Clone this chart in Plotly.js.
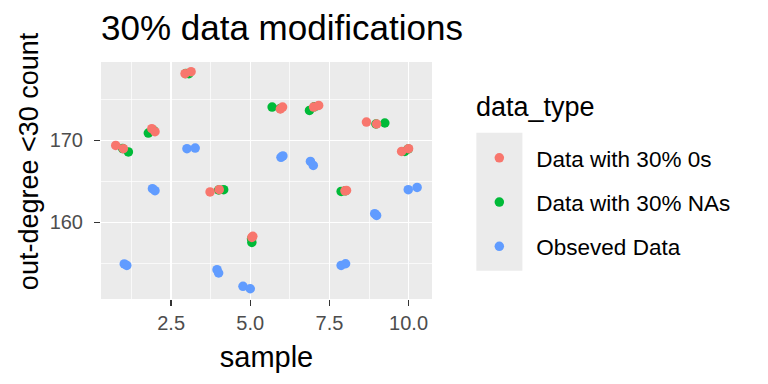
<!DOCTYPE html>
<html>
<head>
<meta charset="utf-8">
<script src="https://cdn.plot.ly/plotly-3.0.1.min.js"></script>
<style>html,body{margin:0;padding:0;background:#fff;}#chart{width:768px;height:384px;}</style>
</head>
<body>
<div id="chart"></div>
<script>
// Data (x values include the plotted jitter)
const seriesNames = ["Data with 30% 0s", "Data with 30% NAs", "Obseved Data"];
const seriesColors = ["#F8766D", "#00BA38", "#619CFF"];

const xZeros = [0.75, 0.99, 1.89, 1.99, 2.94, 3.13, 3.73, 4.02, 5.05, 5.08, 5.95, 6.02, 7.00, 7.16, 8.04, 7.99, 8.67, 8.99, 9.78, 10.00];
const yZeros = [169.39, 168.99, 171.43, 171.06, 178.13, 178.38, 163.71, 163.99, 158.17, 158.30, 173.83, 174.07, 174.07, 174.27, 163.90, 163.85, 172.24, 172.00, 168.66, 168.99];

const xNAs = [1.15, 0.97, 1.78, 1.95, 3.06, 2.96, 4.16, 4.00, 5.05, 5.04, 5.69, 5.95, 6.87, 7.02, 7.87, 8.00, 9.25, 8.97, 9.88, 9.99];
const yNAs = [168.59, 169.00, 170.90, 171.20, 178.13, 178.15, 163.99, 163.95, 157.56, 158.00, 174.07, 173.90, 173.66, 174.10, 163.78, 163.85, 172.12, 172.00, 168.66, 168.95];

const xObs = [1.02, 1.10, 1.91, 1.99, 3.00, 3.26, 3.95, 4.00, 4.77, 5.00, 5.97, 6.03, 6.90, 6.99, 7.87, 8.01, 8.93, 8.99, 9.99, 10.27];
const yObs = [154.93, 154.76, 164.11, 163.87, 168.99, 169.07, 154.23, 153.83, 152.20, 151.91, 167.93, 168.10, 167.44, 166.95, 154.76, 154.96, 161.06, 160.85, 163.99, 164.27];

const xTickVals = [2.5, 5.0, 7.5, 10.0];
const yTickVals = [160, 170];

function mk(x, y, i, rank) {
  return {
    type: "scatter", mode: "markers", x: x, y: y,
    name: seriesNames[i], legendgroup: "g" + i, legendrank: rank,
    marker: {color: seriesColors[i], size: 9.5, line: {width: 0}},
    hoverinfo: "x+y"
  };
}

const traces = [
  mk(xNAs, yNAs, 1, 2),
  mk(xZeros, yZeros, 0, 1),
  mk(xObs, yObs, 2, 3)
];

const font = "Liberation Sans, Arial, Helvetica, sans-serif";

// panel geometry helpers (pixels -> paper fractions)
const PL = 101, PR = 431.7, PT = 62.3, PB = 299.3;
const px2x = p => (p - PL) / (PR - PL);
const px2y = p => (PB - p) / (PB - PT);

const layout = {
  width: 768, height: 384,
  paper_bgcolor: "#ffffff", plot_bgcolor: "#ebebeb",
  margin: {l: 101, r: 336, t: 62, b: 85, autoexpand: false},
  font: {family: font, color: "#000"},
  title: {
    text: "30% data modifications",
    font: {size: 35, color: "#000", family: font},
    xref: "container", x: 101/768, xanchor: "left",
    yref: "container", y: 1 - 28/384, yanchor: "middle"
  },
  xaxis: {
    range: [0.285, 10.74],
    tickvals: xTickVals, ticktext: xTickVals.map(v => v.toFixed(1)),
    ticks: "outside", ticklen: 6, tickwidth: 1.4, tickcolor: "#333333",
    tickfont: {size: 20, color: "#4d4d4d"},
    showgrid: true, gridcolor: "#ffffff", gridwidth: 1.3,
    minor: {tickvals: [1.25, 3.75, 6.25, 8.75], showgrid: true, gridcolor: "#ffffff", gridwidth: 0.7, ticks: ""},
    zeroline: false, showline: false,
    title: {text: "sample", font: {size: 29, color: "#000"}, standoff: 13}
  },
  yaxis: {
    range: [150.66, 179.56],
    tickvals: yTickVals,
    ticks: "outside", ticklen: 6, tickwidth: 1.4, tickcolor: "#333333",
    tickfont: {size: 20, color: "#4d4d4d"},
    ticklabelstandoff: 7,
    showgrid: true, gridcolor: "#ffffff", gridwidth: 1.3,
    minor: {tickvals: [155, 165, 175], showgrid: true, gridcolor: "#ffffff", gridwidth: 0.7, ticks: ""},
    zeroline: false, showline: false
  },
  annotations: [
    {text: "out-degree &lt;30 count", textangle: -90, showarrow: false,
     xref: "paper", yref: "paper", x: px2x(29), y: px2y(161.5),
     xanchor: "center", yanchor: "middle", font: {size: 27, color: "#000"}},
    {text: "data_type", showarrow: false,
     xref: "paper", yref: "paper", x: px2x(474), y: px2y(107),
     xanchor: "left", yanchor: "middle", font: {size: 27, color: "#000"}}
  ],
  legend: {
    x: px2x(462), xanchor: "left", y: px2y(137), yanchor: "top",
    bgcolor: "rgba(0,0,0,0)",
    font: {size: 22.5, color: "#000"},
    traceorder: "grouped", tracegroupgap: 12,
    itemwidth: 64
  },
  shapes: [{
    type: "rect", xref: "paper", yref: "paper",
    x0: px2x(476), x1: px2x(522),
    y0: px2y(271), y1: px2y(133),
    fillcolor: "#ebebeb", line: {width: 0}, layer: "below"
  }],
  showlegend: true
};

Plotly.newPlot("chart", traces, layout, {displayModeBar: false, staticPlot: true});
</script>
</body>
</html>
